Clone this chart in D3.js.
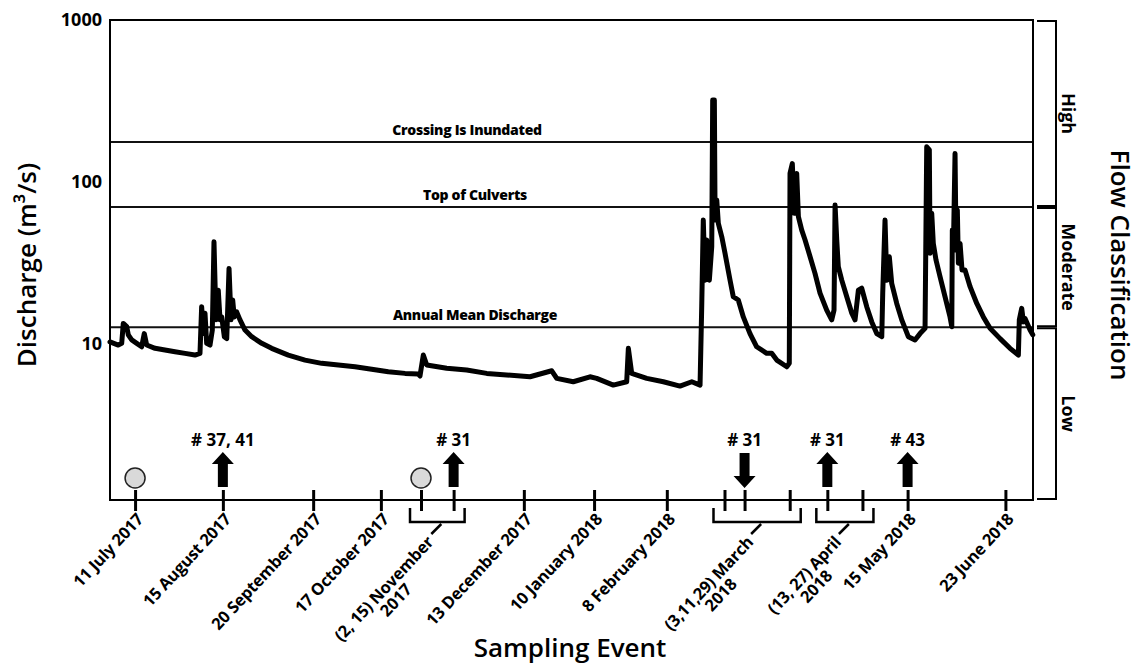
<!DOCTYPE html>
<html>
<head>
<meta charset="utf-8">
<script src="https://cdn.jsdelivr.net/npm/d3@7"></script>
<style>
  body { margin: 0; background: #fff; }
  text { font-family: "Open Sans", sans-serif; fill: #000; }
</style>
</head>
<body>
<div id="chart"></div>
<script>
// Discharge readings (m3/s)
const flowTime = [
  "2017-07-01T00", "2017-07-04T07", "2017-07-05T16", "2017-07-06T07", "2017-07-07T16", "2017-07-08T07",
  "2017-07-09T16", "2017-07-11T16", "2017-07-13T15", "2017-07-14T16", "2017-07-15T15", "2017-07-18T23",
  "2017-07-22T22", "2017-07-26T22", "2017-07-30T22", "2017-08-03T21", "2017-08-05T21", "2017-08-06T13",
  "2017-08-07T05", "2017-08-07T21", "2017-08-08T13", "2017-08-09T21", "2017-08-10T19", "2017-08-11T11",
  "2017-08-12T06", "2017-08-13T04", "2017-08-13T21", "2017-08-14T13", "2017-08-15T14", "2017-08-16T13",
  "2017-08-17T11", "2017-08-18T06", "2017-08-18T22", "2017-08-19T13", "2017-08-20T12", "2017-08-21T20",
  "2017-08-23T20", "2017-08-26T12", "2017-08-30T12", "2017-09-03T11", "2017-09-10T02", "2017-09-16T18",
  "2017-09-23T10", "2017-09-30T01", "2017-10-06T17", "2017-10-13T08", "2017-10-19T23", "2017-10-26T15",
  "2017-10-31T22", "2017-11-01T14", "2017-11-02T22", "2017-11-04T07", "2017-11-12T06", "2017-11-20T05",
  "2017-11-28T05", "2017-12-06T04", "2017-12-15T11", "2017-12-24T03", "2017-12-26T03", "2018-01-01T17",
  "2018-01-08T09", "2018-01-11T01", "2018-01-17T16", "2018-01-23T00", "2018-01-23T16", "2018-01-25T00",
  "2018-01-31T00", "2018-02-06T15", "2018-02-13T06", "2018-02-17T23", "2018-02-21T06", "2018-02-21T22",
  "2018-02-22T13", "2018-02-23T06", "2018-02-23T22", "2018-02-24T23", "2018-02-25T22", "2018-02-26T07",
  "2018-02-26T23", "2018-02-27T06", "2018-02-27T22", "2018-02-28T13", "2018-03-01T22", "2018-03-03T05",
  "2018-03-05T05", "2018-03-06T12", "2018-03-08T12", "2018-03-10T12", "2018-03-13T04", "2018-03-15T20",
  "2018-03-19T20", "2018-03-21T20", "2018-03-23T20", "2018-03-27T20", "2018-03-28T20", "2018-03-29T03",
  "2018-03-30T01", "2018-03-30T20", "2018-03-31T19", "2018-04-01T11", "2018-04-02T19", "2018-04-04T03",
  "2018-04-06T03", "2018-04-08T02", "2018-04-10T02", "2018-04-12T18", "2018-04-14T18", "2018-04-15T16",
  "2018-04-16T02", "2018-04-16T18", "2018-04-17T09", "2018-04-18T18", "2018-04-20T18", "2018-04-22T18",
  "2018-04-24T01", "2018-04-25T09", "2018-04-26T17", "2018-04-28T17", "2018-04-30T17", "2018-05-02T17",
  "2018-05-04T17", "2018-05-05T02", "2018-05-06T00", "2018-05-06T17", "2018-05-07T17", "2018-05-08T16",
  "2018-05-10T16", "2018-05-12T16", "2018-05-15T07", "2018-05-17T23", "2018-05-19T23", "2018-05-21T23",
  "2018-05-22T15", "2018-05-23T16", "2018-05-23T23", "2018-05-24T15", "2018-05-25T06", "2018-05-26T08",
  "2018-05-27T23", "2018-05-29T22", "2018-05-31T22", "2018-06-01T15", "2018-06-01T20", "2018-06-02T06",
  "2018-06-02T22", "2018-06-03T08", "2018-06-03T20", "2018-06-04T06", "2018-06-04T22", "2018-06-05T17",
  "2018-06-06T22", "2018-06-08T22", "2018-06-11T14", "2018-06-14T05", "2018-06-16T21", "2018-06-20T21",
  "2018-06-24T20", "2018-06-28T04", "2018-06-28T13", "2018-06-29T12", "2018-06-30T04", "2018-06-30T20",
  "2018-07-02T20", "2018-07-03T22"
];
const flowValue = [
  10.3, 9.86, 10.1, 13.4, 12.8, 11.4,
  10.6, 10.1, 9.62, 11.6, 9.86, 9.41,
  9.18, 8.97, 8.76, 8.55, 8.76, 17.0,
  11.6, 15.5, 10.1, 9.86, 12.2, 42.8,
  14.1, 21.5, 14.1, 14.7, 11.1, 10.8,
  29.3, 14.1, 18.7, 14.7, 15.8, 14.1,
  12.2, 11.1, 10.1, 9.41, 8.55, 7.96,
  7.60, 7.42, 7.24, 6.98, 6.75, 6.59,
  6.53, 6.35, 8.55, 7.42, 7.08, 6.91,
  6.59, 6.44, 6.28, 6.84, 6.14, 5.85,
  6.28, 6.14, 5.58, 5.85, 9.41, 6.59,
  6.14, 5.85, 5.50, 5.85, 5.58, 17.0,
  58.3, 24.8, 43.9, 24.8, 39.9, 321,
  321, 58.3, 77.4, 55.6, 45.9, 36.3,
  24.8, 19.6, 18.7, 14.7, 11.6, 9.62,
  8.76, 8.76, 7.96, 7.24, 7.60, 113,
  130, 64.1, 113, 61.1, 50.5, 43.9,
  34.6, 27.3, 20.6, 16.2, 14.1, 16.2,
  72.1, 43.9, 30.0, 24.8, 19.6, 15.5,
  14.1, 21.5, 22.1, 17.0, 13.7, 11.6,
  11.1, 20.6, 58.3, 24.8, 34.6, 23.7,
  17.8, 14.1, 11.1, 10.6, 11.6, 12.5,
  165, 158, 36.3, 64.1, 41.8, 33.0,
  26.0, 19.6, 14.7, 12.8, 50.5, 38.0,
  150, 38.0, 67.1, 31.5, 41.8, 28.6,
  28.6, 22.6, 17.8, 14.7, 12.5, 10.8,
  9.41, 8.55, 14.1, 16.6, 13.7, 14.4,
  12.2, 11.4
];

// x axis: sampling events (grouped labels share one bracket)
const labelLines = [
  ["11 July 2017"], ["15 August 2017"], ["20 September 2017"], ["17 October 2017"],
  ["(2, 15) November", "2017"], ["13 December 2017"], ["10 January 2018"], ["8 February 2018"],
  ["(3,11,29) March", "2018"], ["(13, 27) April", "2018"], ["15 May 2018"], ["23 June 2018"]
];
const labelDates = [
  ["2017-07-11"], ["2017-08-15"], ["2017-09-20"], ["2017-10-17"],
  ["2017-11-02", "2017-11-15"], ["2017-12-13"], ["2018-01-10"], ["2018-02-08"],
  ["2018-03-03", "2018-03-11", "2018-03-29"], ["2018-04-13", "2018-04-27"], ["2018-05-15"], ["2018-06-23"]
];
const xStart = "2017-07-01";
const xEnd = "2018-07-04";

// y axis
const yDomain = [1.09, 1000];
const yTicks = [10, 100, 1000];

// reference levels
const levelValues = [176.6, 70, 12.7];
const levelNames = ["Crossing Is Inundated", "Top of Culverts", "Annual Mean Discharge"];

// flow classes (edges top to bottom)
const classNames = ["High", "Moderate", "Low"];
const classEdges = [1000, 70, 12.7, 1.09];

// markers above the axis
const arrowDates = ["2017-08-15", "2017-11-15", "2018-03-11", "2018-04-13", "2018-05-15"];
const arrowDirs = ["up", "up", "down", "up", "up"];
const arrowLabels = ["# 37, 41", "# 31", "# 31", "# 31", "# 43"];
const circleDates = ["2017-07-11", "2017-11-02"];

const width = 1142;
const height = 667;
const margin = { top: 20, right: 109, bottom: 167, left: 110 };
const plotBottom = height - margin.bottom;
const plotRight = width - margin.right;

const parseHour = d3.timeParse("%Y-%m-%dT%H");
const parseDay = d3.timeParse("%Y-%m-%d");

const flow = flowTime.map((t, i) => ({ t: parseHour(t), v: flowValue[i] }));

const x = d3.scaleTime()
  .domain([parseDay(xStart), parseDay(xEnd)])
  .range([margin.left, plotRight]);

const y = d3.scaleLog()
  .domain(yDomain)
  .range([plotBottom, margin.top]);

const svg = d3.select("#chart")
  .append("svg")
  .attr("width", width)
  .attr("height", height);

// reference lines + labels
svg.append("g")
  .selectAll("line")
  .data(levelValues)
  .enter()
  .append("line")
  .attr("x1", margin.left)
  .attr("x2", plotRight)
  .attr("y1", (d) => y(d))
  .attr("y2", (d) => y(d))
  .attr("stroke", "#111")
  .attr("stroke-width", 2);

svg.append("g")
  .selectAll("text")
  .data(levelValues)
  .enter()
  .append("text")
  .attr("x", (d, i) => (i == 0 ? 467 : 475))
  .attr("y", (d) => y(d) - 7)
  .attr("text-anchor", "middle")
  .style("font-size", "14px")
  .style("font-weight", 800)
  .style("letter-spacing", "-0.3px")
  .text((d, i) => levelNames[i]);

// hydrograph
const line = d3.line()
  .x((d) => x(d.t))
  .y((d) => y(d.v));

svg.append("path")
  .datum(flow)
  .attr("d", line)
  .attr("fill", "none")
  .attr("stroke", "#000")
  .attr("stroke-width", 5)
  .attr("stroke-linejoin", "round")
  .attr("stroke-linecap", "round");

// frame
svg.append("rect")
  .attr("x", margin.left)
  .attr("y", margin.top)
  .attr("width", plotRight - margin.left)
  .attr("height", plotBottom - margin.top)
  .attr("fill", "none")
  .attr("stroke", "#000")
  .attr("stroke-width", 2);

// y axis labels
const yAxis = svg.append("g")
  .attr("transform", `translate(${margin.left}, 0)`)
  .call(d3.axisLeft(y).tickValues(yTicks).tickSize(0).tickPadding(8).tickFormat(d3.format("d")));
yAxis.select(".domain").remove();
yAxis.selectAll("text")
  .style("font-family", "'Open Sans', sans-serif")
  .style("font-size", "18px")
  .style("font-weight", 700);

// x axis ticks, crossing the axis line
const sampleDates = labelDates.flat().map(parseDay);
const xAxis = svg.append("g")
  .attr("transform", `translate(0, ${plotBottom})`)
  .call(d3.axisBottom(x).tickValues(sampleDates).tickSize(11).tickSizeOuter(0).tickFormat(""));
xAxis.select(".domain").remove();
xAxis.selectAll(".tick line")
  .attr("y1", -10)
  .attr("stroke", "#000")
  .attr("stroke-width", 3);

// x labels (with brackets for grouped dates)
labelLines.forEach((lines, i) => {
  const dates = labelDates[i].map(parseDay);
  let ax, ay;
  if (dates.length > 1) {
    const x0 = x(dates[0]) - 11;
    const x1 = x(dates[dates.length - 1]) + 11;
    const mid = (x0 + x1) / 2;
    svg.append("path")
      .attr("d", `M${x0},${plotBottom + 8}V${plotBottom + 22}H${x1}V${plotBottom + 8}`)
      .attr("fill", "none")
      .attr("stroke", "#000")
      .attr("stroke-width", 2.5);
    svg.append("line")
      .attr("x1", mid + 4)
      .attr("y1", plotBottom + 24)
      .attr("x2", mid - 6)
      .attr("y2", plotBottom + 34)
      .attr("stroke", "#000")
      .attr("stroke-width", 2.5);
    ax = mid - 7;
    ay = plotBottom + 39;
  } else {
    ax = x(dates[0]) + 5;
    ay = plotBottom + 16;
  }
  const g = svg.append("g").attr("transform", `translate(${ax}, ${ay}) rotate(-47)`);
  const first = g.append("text")
    .attr("text-anchor", "end")
    .attr("dy", "0.35em")
    .style("font-size", "16.5px")
    .style("font-weight", 700)
    .style("letter-spacing", "-0.2px")
    .text(lines[0]);
  if (lines.length > 1) {
    const len = first.node().getComputedTextLength();
    g.append("text")
      .attr("x", -len / 2)
      .attr("dy", "1.35em")
      .attr("text-anchor", "middle")
      .style("font-size", "16.5px")
      .style("font-weight", 700)
      .text(lines[1]);
  }
});

// sampling markers
svg.append("g")
  .selectAll("circle")
  .data(circleDates)
  .enter()
  .append("circle")
  .attr("cx", (d) => x(parseDay(d)))
  .attr("cy", plotBottom - 22)
  .attr("r", 10)
  .attr("fill", "#d9d9d9")
  .attr("stroke", "#222")
  .attr("stroke-width", 1.5);

arrowDates.forEach((d, i) => {
  const cx = x(parseDay(d));
  const path = arrowDirs[i] == "up"
    ? `M${cx},452L${cx + 11},464H${cx + 5}V487H${cx - 5}V464H${cx - 11}Z`
    : `M${cx},488L${cx + 11},476H${cx + 5}V453H${cx - 5}V476H${cx - 11}Z`;
  svg.append("path").attr("d", path).attr("fill", "#000");
  svg.append("text")
    .attr("x", cx)
    .attr("y", 446)
    .attr("text-anchor", "middle")
    .style("font-size", "17px")
    .style("font-weight", 700)
    .text(arrowLabels[i]);
});

// flow classification brackets
classNames.forEach((name, i) => {
  const top = y(classEdges[i]) + 1;
  const bot = y(classEdges[i + 1]) - 1;
  svg.append("path")
    .attr("d", `M${plotRight + 4},${top}H${plotRight + 23}V${bot}H${plotRight + 4}`)
    .attr("fill", "none")
    .attr("stroke", "#000")
    .attr("stroke-width", 2);
  svg.append("text")
    .attr("transform", `translate(${plotRight + 35}, ${(top + bot) / 2}) rotate(90)`)
    .attr("dy", "0.35em")
    .attr("text-anchor", "middle")
    .style("font-size", "18px")
    .style("font-weight", 700)
    .text(name);
});

// axis titles
svg.append("text")
  .attr("transform", `translate(27, 265) rotate(-90)`)
  .attr("dy", "0.35em")
  .attr("text-anchor", "middle")
  .style("font-size", "26px")
  .style("font-weight", 600)
  .text("Discharge (m³/s)");

svg.append("text")
  .attr("transform", `translate(1120, 265) rotate(90)`)
  .attr("dy", "0.35em")
  .attr("text-anchor", "middle")
  .style("font-size", "26px")
  .style("font-weight", 600)
  .text("Flow Classification");

svg.append("text")
  .attr("x", 570)
  .attr("y", 657)
  .attr("text-anchor", "middle")
  .style("font-size", "26px")
  .style("font-weight", 600)
  .text("Sampling Event");
</script>
</body>
</html>
